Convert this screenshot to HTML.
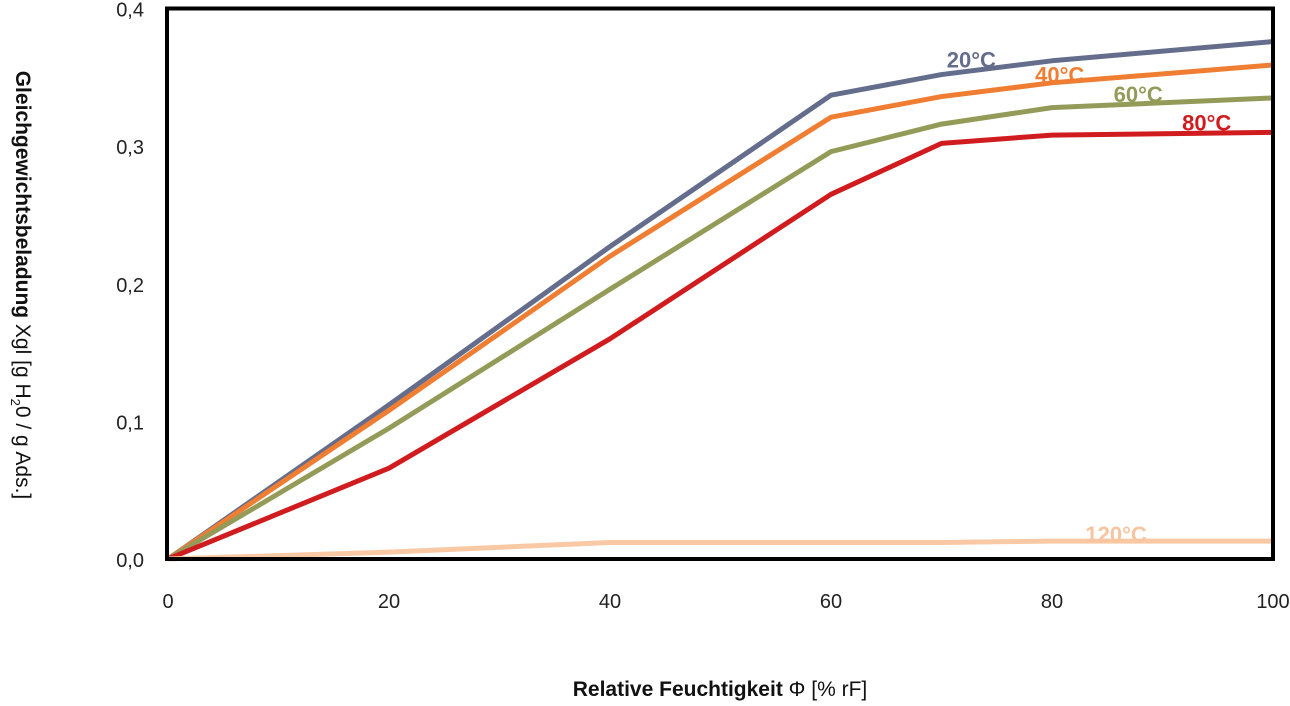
<!DOCTYPE html>
<html><head><meta charset="utf-8"><style>
html,body{margin:0;padding:0;background:#fff;}
svg text{font-family:"Liberation Sans Narrow","Liberation Sans",sans-serif;}
</style></head><body>
<svg id="chart" width="1290" height="701" viewBox="0 0 1290 701" xmlns="http://www.w3.org/2000/svg">
<g id="series"></g>
<rect x="167" y="8.5" width="1106" height="550.5" fill="none" stroke="#000" stroke-width="4"/>
<g id="ticks"></g>
<text x="720" y="696" text-anchor="middle" font-size="21" fill="#111"><tspan font-weight="bold">Relative Feuchtigkeit</tspan> Φ [% rF]</text>
<text transform="translate(16,285) rotate(90)" text-anchor="middle" font-size="21" fill="#111"><tspan font-weight="bold">Gleichgewichtsbeladung</tspan>  Xgl [g H<tspan font-size="13" dy="5">2</tspan><tspan dy="-5">0 / g Ads.]</tspan></text>
</svg>
<script>
const xValues = [0, 20, 40, 60, 70, 80, 100];
const s20 = [0, 0.112, 0.227, 0.337, 0.352, 0.362, 0.376];
const s40 = [0, 0.108, 0.220, 0.321, 0.336, 0.346, 0.359];
const s60 = [0, 0.095, 0.196, 0.296, 0.316, 0.328, 0.335];
const s80 = [0, 0.066, 0.160, 0.265, 0.302, 0.308, 0.310];
const s120 = [0, 0.005, 0.012, 0.012, 0.012, 0.013, 0.013];
const seriesNames = ["20°C", "40°C", "60°C", "80°C", "120°C"];
const xTicks = [0, 20, 40, 60, 80, 100];
const yTicks = [0, 0.1, 0.2, 0.3, 0.4];
const yTickLabels = ["0,0", "0,1", "0,2", "0,3", "0,4"];

const X0 = 168, X1 = 1273, Y0 = 559, Y1 = 8.5;
const xs = v => X0 + (v / 100) * (X1 - X0);
const ys = v => Y0 - (v / 0.4) * (Y0 - Y1);
const NS = "http://www.w3.org/2000/svg";
const gS = document.getElementById("series");
const gT = document.getElementById("ticks");

const series = [
  {vals: s20, color: "#646e8c", ly: 0.363},
  {vals: s40, color: "#ef7d32", ly: 0.352},
  {vals: s60, color: "#949b58", ly: 0.338},
  {vals: s80, color: "#d01c1f", ly: 0.317},
  {vals: s120, color: "#f9c9a5", ly: 0.018}
];
const labelX = [72.7, 80.7, 87.8, 94, 85.8];
series.forEach((s, i) => {
  const p = document.createElementNS(NS, "polyline");
  p.setAttribute("points", xValues.map((x, j) => xs(x) + "," + ys(s.vals[j])).join(" "));
  p.setAttribute("fill", "none");
  p.setAttribute("stroke", s.color);
  p.setAttribute("stroke-width", "5");
  p.setAttribute("stroke-linejoin", "round");
  
  
  gS.appendChild(p);
  const t = document.createElementNS(NS, "text");
  t.setAttribute("x", xs(labelX[i]));
  t.setAttribute("y", ys(s.ly) + 8);
  t.setAttribute("text-anchor", "middle");
  t.setAttribute("font-size", "22");
  t.setAttribute("font-weight", "bold");
  t.setAttribute("fill", i === 4 ? "#f8c4a0" : s.color);
  t.textContent = seriesNames[i];
  
  
  gS.appendChild(t);
});
xTicks.forEach(v => {
  const t = document.createElementNS(NS, "text");
  t.setAttribute("x", xs(v));
  t.setAttribute("y", 608);
  t.setAttribute("text-anchor", "middle");
  t.setAttribute("font-size", "20");
  t.setAttribute("fill", "#222");
  t.textContent = v;
  
  
  gT.appendChild(t);
});
yTicks.forEach((v, i) => {
  const t = document.createElementNS(NS, "text");
  t.setAttribute("x", 144);
  t.setAttribute("y", ys(v) + 8);
  t.setAttribute("text-anchor", "end");
  t.setAttribute("font-size", "20");
  t.setAttribute("fill", "#222");
  t.textContent = yTickLabels[i];
  
  
  gT.appendChild(t);
});
</script>
</body></html>
